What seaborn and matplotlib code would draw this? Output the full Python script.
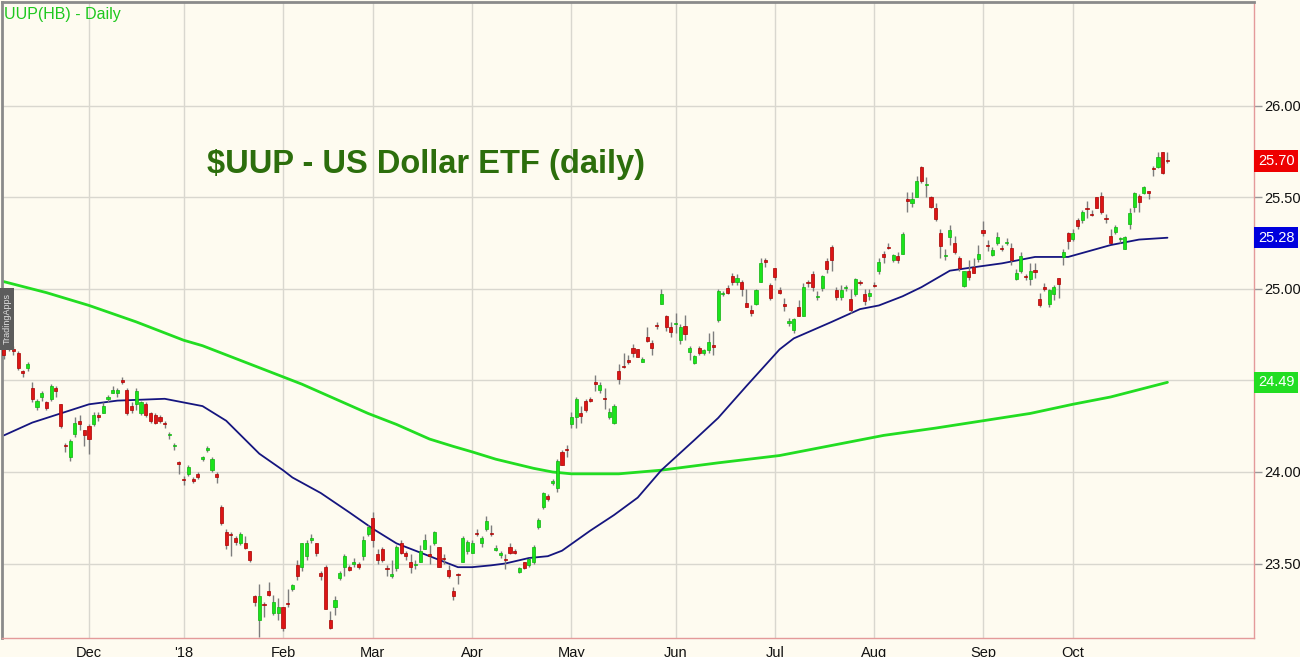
import numpy as np
import pandas as pd
import matplotlib
matplotlib.use("Agg")
import matplotlib.pyplot as plt
import matplotlib.transforms as mtransforms
from matplotlib.patches import Rectangle
from matplotlib.ticker import FixedLocator, FuncFormatter
import seaborn as sns

# ---------------- data ----------------
holidays = ["2017-11-23", "2017-12-25", "2018-01-01", "2018-01-15", "2018-02-19",
            "2018-03-30", "2018-05-28", "2018-07-04", "2018-09-03"]
start_date, end_date = "2017-11-06", "2018-10-29"

opens = [
    24.69, 24.70, 24.67, 24.65, 24.55, 24.57, 24.46, 24.355, 24.41, 24.38,
    24.40, 24.46, 24.37, 24.15, 24.08, 24.21, 24.28, 24.23, 24.25, 24.26,
    24.31, 24.32, 24.40, 24.43, 24.43, 24.50, 24.45, 24.36, 24.37, 24.32,
    24.37, 24.32, 24.31, 24.30, 24.27, 24.20, 24.14, 24.055, 23.96, 23.99,
    23.96, 23.99, 24.07, 24.12, 24.01, 23.99, 23.81, 23.67, 23.66, 23.64,
    23.61, 23.61, 23.57, 23.32, 23.19, 23.28, 23.35, 23.23, 23.23, 23.26,
    23.285, 23.36, 23.49, 23.48, 23.54, 23.63, 23.61, 23.45, 23.48, 23.19,
    23.26, 23.42, 23.48, 23.48, 23.50, 23.50, 23.54, 23.66, 23.75, 23.55,
    23.58, 23.475, 23.43, 23.475, 23.61, 23.56, 23.51, 23.49, 23.51, 23.58,
    23.55, 23.61, 23.59, 23.53, 23.465, 23.35, 23.44, 23.51, 23.57, 23.56,
    23.665, 23.61, 23.69, 23.665, 23.575, 23.545, 23.525, 23.59, 23.565, 23.455,
    23.51, 23.49, 23.51, 23.70, 23.81, 23.87, 23.94, 23.91, 24.11, 24.125,
    24.26, 24.30, 24.32, 24.39, 24.40, 24.49, 24.45, 24.405, 24.30, 24.27,
    24.55, 24.58, 24.61, 24.68, 24.67, 24.60, 24.74, 24.705, 24.80, 24.92,
    24.85, 24.79, 24.81, 24.72, 24.80, 24.655, 24.595, 24.68, 24.65, 24.665,
    24.695, 24.83, 24.97, 25.005, 25.07, 25.04, 25.04, 24.925, 24.885, 24.92,
    25.04, 25.155, 25.02, 25.115, 24.995, 24.92, 24.815, 24.775, 24.90, 24.85,
    25.035, 25.08, 24.955, 25.005, 25.155, 25.23, 24.995, 24.955, 25.005, 24.945,
    24.97, 25.04, 24.97, 24.96, 25.02, 25.10, 25.19, 25.23, 25.16, 25.18,
    25.19, 25.49, 25.47, 25.50, 25.667, 25.57, 25.50, 25.44, 25.305, 25.18,
    25.285, 25.25, 25.17, 25.015, 25.10, 25.12, 25.165, 25.32, 25.24, 25.185,
    25.25, 25.225, 25.25, 25.225, 25.055, 25.10, 25.07, 25.055, 25.105, 24.945,
    25.01, 24.92, 24.97, 25.06, 25.175, 25.305, 25.275, 25.377, 25.377, 25.44,
    25.41, 25.50, 25.51, 25.385, 25.29, 25.31, 25.275, 25.22, 25.355, 25.45,
    25.51, 25.525, 25.535, 25.66, 25.667, 25.75, 25.705,
]
closes = [
    24.64, 24.68, 24.66, 24.57, 24.54, 24.59, 24.40, 24.39, 24.43, 24.35,
    24.47, 24.44, 24.25, 24.14, 24.17, 24.27, 24.26, 24.20, 24.18, 24.31,
    24.30, 24.36, 24.41, 24.45, 24.45, 24.49, 24.32, 24.34, 24.44, 24.38,
    24.31, 24.28, 24.27, 24.28, 24.26, 24.21, 24.15, 24.045, 23.955, 24.03,
    23.95, 23.97, 24.08, 24.13, 24.07, 23.97, 23.72, 23.60, 23.655, 23.62,
    23.66, 23.585, 23.52, 23.29, 23.32, 23.275, 23.33, 23.29, 23.26, 23.15,
    23.28, 23.38, 23.43, 23.61, 23.61, 23.64, 23.56, 23.43, 23.25, 23.15,
    23.30, 23.45, 23.54, 23.465, 23.505, 23.48, 23.63, 23.70, 23.63, 23.52,
    23.52, 23.47, 23.44, 23.59, 23.56, 23.54, 23.48, 23.50, 23.57, 23.63,
    23.54, 23.67, 23.48, 23.525, 23.43, 23.32, 23.435, 23.64, 23.62, 23.61,
    23.66, 23.64, 23.73, 23.66, 23.585, 23.555, 23.52, 23.56, 23.56, 23.475,
    23.475, 23.525, 23.59, 23.74, 23.885, 23.85, 23.95, 24.06, 24.04, 24.12,
    24.30, 24.40, 24.305, 24.34, 24.39, 24.48, 24.475, 24.40, 24.33, 24.36,
    24.51, 24.575, 24.60, 24.65, 24.63, 24.62, 24.715, 24.68, 24.795, 24.97,
    24.79, 24.765, 24.815, 24.79, 24.755, 24.68, 24.635, 24.65, 24.665, 24.71,
    24.685, 24.99, 24.975, 24.98, 25.04, 25.06, 25.00, 24.90, 24.87, 24.995,
    25.14, 25.15, 24.95, 25.065, 24.98, 24.905, 24.825, 24.835, 24.85, 25.01,
    25.03, 25.01, 24.96, 25.07, 25.11, 25.16, 24.955, 24.995, 25.01, 24.885,
    25.055, 25.03, 24.935, 24.98, 25.015, 25.15, 25.175, 25.225, 25.185, 25.16,
    25.30, 25.48, 25.49, 25.59, 25.59, 25.575, 25.45, 25.38, 25.235, 25.185,
    25.32, 25.20, 25.115, 25.10, 25.065, 25.09, 25.19, 25.305, 25.235, 25.215,
    25.285, 25.22, 25.255, 25.16, 25.09, 25.18, 25.065, 25.10, 25.095, 24.91,
    25.00, 24.995, 25.01, 25.027, 25.20, 25.26, 25.305, 25.345, 25.42, 25.435,
    25.405, 25.44, 25.42, 25.38, 25.25, 25.34, 25.28, 25.285, 25.415, 25.525,
    25.475, 25.557, 25.525, 25.655, 25.72, 25.634, 25.70,
]
highs = [
    24.71, 24.72, 24.69, 24.66, 24.56, 24.60, 24.49, 24.40, 24.44, 24.39,
    24.48, 24.47, 24.37, 24.16, 24.18, 24.30, 24.31, 24.23, 24.26, 24.33,
    24.33, 24.38, 24.42, 24.47, 24.46, 24.52, 24.46, 24.38, 24.46, 24.39,
    24.38, 24.33, 24.32, 24.31, 24.28, 24.22, 24.16, 24.06, 23.98, 24.04,
    23.97, 24.00, 24.09, 24.14, 24.08, 24.00, 23.82, 23.69, 23.67, 23.65,
    23.67, 23.65, 23.57, 23.33, 23.39, 23.29, 23.40, 23.33, 23.31, 23.26,
    23.36, 23.39, 23.52, 23.61, 23.63, 23.66, 23.61, 23.46, 23.49, 23.24,
    23.32, 23.46, 23.55, 23.49, 23.53, 23.51, 23.65, 23.71, 23.78, 23.58,
    23.59, 23.49, 23.52, 23.60, 23.63, 23.57, 23.55, 23.52, 23.60, 23.66,
    23.60, 23.68, 23.59, 23.55, 23.49, 23.37, 23.45, 23.65, 23.63, 23.63,
    23.69, 23.65, 23.76, 23.71, 23.60, 23.57, 23.55, 23.61, 23.58, 23.48,
    23.51, 23.53, 23.60, 23.75, 23.89, 23.88, 23.96, 24.07, 24.12, 24.15,
    24.33, 24.41, 24.36, 24.40, 24.41, 24.53, 24.49, 24.46, 24.35, 24.37,
    24.59, 24.65, 24.64, 24.70, 24.67, 24.63, 24.79, 24.72, 24.82, 25.00,
    24.86, 24.82, 24.87, 24.81, 24.86, 24.69, 24.64, 24.69, 24.67, 24.76,
    24.77, 25.00, 24.99, 25.02, 25.09, 25.08, 25.05, 25.00, 24.91, 25.00,
    25.17, 25.17, 25.03, 25.115, 25.01, 24.95, 24.84, 24.84, 24.94, 25.03,
    25.05, 25.10, 24.99, 25.075, 25.17, 25.24, 25.01, 25.02, 25.02, 25.00,
    25.06, 25.05, 25.00, 25.00, 25.04, 25.17, 25.21, 25.25, 25.19, 25.20,
    25.31, 25.53, 25.53, 25.62, 25.67, 25.61, 25.51, 25.47, 25.33, 25.22,
    25.35, 25.29, 25.18, 25.10, 25.16, 25.17, 25.24, 25.37, 25.27, 25.23,
    25.31, 25.24, 25.28, 25.25, 25.11, 25.20, 25.08, 25.14, 25.14, 24.98,
    25.03, 25.00, 25.02, 25.06, 25.22, 25.31, 25.33, 25.39, 25.43, 25.48,
    25.43, 25.50, 25.53, 25.41, 25.33, 25.35, 25.285, 25.29, 25.44, 25.53,
    25.52, 25.565, 25.535, 25.67, 25.75, 25.75, 25.75,
]
lows = [
    24.62, 24.66, 24.64, 24.56, 24.52, 24.55, 24.38, 24.34, 24.39, 24.34,
    24.39, 24.41, 24.24, 24.11, 24.06, 24.19, 24.23, 24.14, 24.10, 24.25,
    24.28, 24.32, 24.38, 24.43, 24.41, 24.48, 24.31, 24.32, 24.34, 24.31,
    24.30, 24.27, 24.26, 24.27, 24.24, 24.18, 24.12, 23.99, 23.93, 23.98,
    23.94, 23.96, 24.06, 24.11, 24.00, 23.94, 23.71, 23.58, 23.54, 23.60,
    23.60, 23.58, 23.51, 23.27, 23.10, 23.21, 23.32, 23.22, 23.19, 23.13,
    23.26, 23.35, 23.41, 23.46, 23.52, 23.61, 23.54, 23.41, 23.25, 23.14,
    23.22, 23.41, 23.43, 23.46, 23.48, 23.47, 23.52, 23.65, 23.59, 23.50,
    23.51, 23.43, 23.42, 23.46, 23.55, 23.52, 23.45, 23.47, 23.51, 23.58,
    23.50, 23.60, 23.48, 23.50, 23.42, 23.30, 23.39, 23.51, 23.55, 23.56,
    23.65, 23.59, 23.68, 23.65, 23.57, 23.53, 23.47, 23.55, 23.55, 23.45,
    23.47, 23.48, 23.50, 23.69, 23.80, 23.84, 23.93, 23.89, 24.04, 24.08,
    24.24, 24.24, 24.27, 24.33, 24.38, 24.44, 24.43, 24.345, 24.29, 24.26,
    24.48, 24.57, 24.59, 24.63, 24.63, 24.60, 24.71, 24.64, 24.78, 24.92,
    24.77, 24.74, 24.76, 24.70, 24.72, 24.61, 24.59, 24.64, 24.64, 24.65,
    24.64, 24.82, 24.96, 24.97, 25.02, 25.02, 24.96, 24.90, 24.85, 24.91,
    25.04, 25.12, 24.94, 25.05, 24.97, 24.88, 24.80, 24.76, 24.85, 24.85,
    25.01, 24.99, 24.94, 24.99, 25.09, 25.10, 24.94, 24.94, 24.99, 24.87,
    24.96, 25.02, 24.91, 24.94, 25.01, 25.08, 25.14, 25.22, 25.15, 25.14,
    25.19, 25.42, 25.45, 25.50, 25.58, 25.50, 25.44, 25.37, 25.17, 25.16,
    25.24, 25.19, 25.10, 25.01, 25.05, 25.09, 25.15, 25.29, 25.21, 25.18,
    25.24, 25.21, 25.24, 25.13, 25.05, 25.09, 25.05, 25.02, 25.06, 24.90,
    24.99, 24.90, 24.94, 24.95, 25.13, 25.22, 25.26, 25.33, 25.36, 25.39,
    25.40, 25.44, 25.41, 25.36, 25.25, 25.30, 25.25, 25.22, 25.33, 25.42,
    25.42, 25.52, 25.49, 25.62, 25.66, 25.63, 25.69,
]

# moving averages (session number, value); session 0 = 2017-12-01
ma50_sessions = [-18, -12, 0, 6, 16, 20, 24, 29, 36, 41, 43, 49, 55, 60, 65, 71, 74, 78,
                 81, 85, 88, 93, 97, 100, 106, 111, 116, 121, 128, 133, 139, 146, 149,
                 157, 163, 167, 172, 176, 182, 186, 193, 200, 207, 216, 222, 228]
ma50_values = [24.20, 24.27, 24.37, 24.39, 24.40, 24.38, 24.36, 24.28, 24.10, 24.01,
               23.97, 23.885, 23.78, 23.69, 23.61, 23.55, 23.52, 23.48, 23.48, 23.49,
               23.50, 23.53, 23.54, 23.57, 23.68, 23.765, 23.86, 24.01, 24.175, 24.295,
               24.47, 24.67, 24.73, 24.82, 24.89, 24.91, 24.96, 25.01, 25.10, 25.115,
               25.14, 25.175, 25.175, 25.24, 25.27, 25.28]
ma200_sessions = [-18, -9, 0, 10, 20, 24, 30, 36, 45, 52, 59, 65, 72, 77, 81, 86, 90, 94,
                  98, 102, 112, 121, 133, 146, 158, 168, 179, 189, 199, 208, 216, 222, 228]
ma200_values = [25.04, 24.98, 24.91, 24.82, 24.72, 24.69, 24.63, 24.57, 24.48, 24.40,
                24.32, 24.26, 24.18, 24.14, 24.11, 24.07, 24.045, 24.02, 24.00, 23.99,
                23.99, 24.01, 24.05, 24.09, 24.15, 24.20, 24.24, 24.28, 24.32, 24.37,
                24.41, 24.45, 24.49]

month_labels = ["Dec", "'18", "Feb", "Mar", "Apr", "May", "Jun", "Jul", "Aug", "Sep", "Oct"]
y_ticks = [23.50, 24.00, 24.50, 25.00, 25.50, 26.00]
y_tick_labels = ["23.50", "24.00", "", "25.00", "25.50", "26.00"]  # 24.50 sits under the tag
last_close, last_ma50, last_ma200 = 25.70, 25.28, 24.49
title_text = "$UUP - US Dollar ETF (daily)"
header_text = "UUP(HB) - Daily"

# ---------------- build frame ----------------
dates = pd.bdate_range(start_date, end_date)
dates = dates[~dates.isin(pd.to_datetime(holidays))]
first_dec = int(np.where(dates == pd.Timestamp("2017-12-01"))[0][0])
sessions = np.arange(len(dates)) - first_dec
df = pd.DataFrame({"date": dates, "s": sessions, "open": opens, "high": highs,
                   "low": lows, "close": closes})

month_start = df["date"].dt.month.ne(df["date"].dt.month.shift())
month_pos = df.loc[month_start, "s"].values[1:]  # skip partial November
week_start = df["date"].dt.isocalendar().week.ne(df["date"].dt.isocalendar().week.shift())
week_pos = df.loc[week_start, "s"].values

# ---------------- style ----------------
BG = "#fefbf0"
sns.set_style("white")
plt.rcParams["font.family"] = ["Liberation Sans", "DejaVu Sans"]

fig = plt.figure(figsize=(13.0, 6.57), dpi=100)
fig.patch.set_facecolor(BG)
ax = fig.add_axes([2 / 1300, 19 / 657, 1252 / 1300, 636 / 657])
ax.set_facecolor(BG)

# grid
for v in y_ticks:
    ax.axhline(v, color="#d9d7cf", lw=1.0, zorder=0)
for p in month_pos:
    ax.axvline(p, color="#d9d7cf", lw=1.0, zorder=0)

# moving averages
sns.lineplot(x=ma200_sessions, y=ma200_values, ax=ax, color="#22dd22", lw=2.0, zorder=2)
sns.lineplot(x=ma50_sessions, y=ma50_values, ax=ax, color="#15157f", lw=1.3, zorder=2)

# candles
up = df["close"] >= df["open"]
body_lo = np.minimum(df["open"], df["close"])
body_h = np.maximum(np.abs(df["close"] - df["open"]), 0.006)
ax.vlines(df["s"], df["low"], df["high"], color="#7d7d7d", lw=1.0, zorder=3)
ax.bar(df["s"][up], body_h[up], bottom=body_lo[up], width=0.66, color="#1be41b",
       edgecolor="#10b010", linewidth=0.5, zorder=4)
ax.bar(df["s"][~up], body_h[~up], bottom=body_lo[~up], width=0.66, color="#dd1515",
       edgecolor="#a80000", linewidth=0.5, zorder=4)

# limits
ax.set_xlim(-18.4, 246.3)
ax.set_ylim(23.093, 26.568)

# axes cosmetics
for side in ["right", "bottom"]:
    ax.spines[side].set_color("#e49a9a")
    ax.spines[side].set_linewidth(1.0)
for side in ["left", "top"]:
    ax.spines[side].set_color("#8a8a8a")
    ax.spines[side].set_linewidth(2.0)

ax.xaxis.set_major_locator(FixedLocator(month_pos))
ax.set_xticklabels(month_labels)
ax.xaxis.set_minor_locator(FixedLocator(week_pos))
ax.tick_params(axis="x", which="major", direction="out", length=4, width=1,
               color="#e49a9a", labelsize=10.5, pad=1.5, labelcolor="#111111")
ax.tick_params(axis="x", which="minor", direction="out", length=3, width=1,
               color="#e49a9a")

ax.yaxis.tick_right()
ax.yaxis.set_major_locator(FixedLocator(y_ticks))
ax.set_yticklabels(y_tick_labels)
ax.tick_params(axis="y", which="major", direction="out", length=6, width=1,
               color="#9a9a9a", labelsize=10.5, pad=1.5, labelcolor="#111111")

# value tags on right axis
tr = mtransforms.blended_transform_factory(ax.transAxes, ax.transData)
for val, col in [(last_close, "#ee0000"), (last_ma50, "#0000dd"), (last_ma200, "#22dd22")]:
    ax.text(1.0 + 4 / 1252, val, f"{val:.2f}", transform=tr, ha="left", va="center",
            color="white", fontsize=10.5, zorder=10, clip_on=False,
            bbox=dict(boxstyle="square,pad=0.25", fc=col, ec="none"))

# texts
fig.text(207 / 1300, 1 - 165 / 657, title_text, ha="left", va="center",
         fontsize=23.5, fontweight="bold", color="#2c6e0c")
fig.text(4 / 1300, 1 - 14 / 657, header_text, ha="left", va="center",
         fontsize=11.5, color="#1ec81e")

# watermark tab
fig.patches.append(Rectangle((0, 1 - 350 / 657), 14 / 1300, 62 / 657,
                             transform=fig.transFigure, fc="#5c5c5c", ec="none", zorder=20))
fig.text(7 / 1300, 1 - 319 / 657, "TradingApps", rotation=90, ha="center", va="center",
         fontsize=6.5, color="#e0e0e0", zorder=21)

fig.savefig("out.png", dpi=100, facecolor=BG)
